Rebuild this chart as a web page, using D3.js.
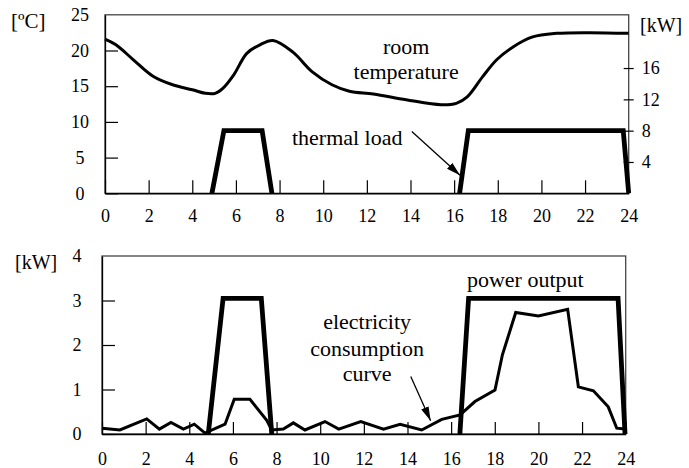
<!DOCTYPE html>
<html>
<head>
<meta charset="utf-8">
<script src="https://cdn.jsdelivr.net/npm/d3@7"></script>
<style>
  body { margin: 0; background: #fff; }
  svg { display: block; font-family: "Liberation Serif", "Times New Roman", serif; }
  .tick text { fill: #000; }
  .tick line { stroke: #000; stroke-width: 1.2; }
</style>
</head>
<body>
<svg width="689" height="468"></svg>
<script>
// hour ticks shared by both panels
var hourTicks = [0, 2, 4, 6, 8, 10, 12, 14, 16, 18, 20, 22, 24];
var tempTicks = [0, 5, 10, 15, 20, 25];
var heatTicks = [4, 8, 12, 16];
var powerTicks = [0, 1, 2, 3, 4];

// room temperature [ºC]
var tempHours = [0, 0.5, 1.3, 2.2, 3.1, 4.0, 4.6, 5.05, 5.4, 5.9, 6.5, 7.1, 7.7, 8.6, 9.5, 10.4, 11.2, 12.3, 13.8, 15.4, 16.1, 16.6, 17.3, 17.95, 18.7, 19.6, 20.7, 22.2, 24];
var tempValues = [21.6, 20.8, 18.7, 16.4, 15.2, 14.5, 14.0, 14.0, 14.7, 16.6, 19.6, 20.8, 21.4, 19.8, 17.0, 15.2, 14.3, 13.9, 13.1, 12.4, 12.6, 13.5, 16.3, 18.7, 20.5, 21.9, 22.4, 22.5, 22.4];

// thermal load [kW]
var loadHours = [4.9, 5.45, 7.2, 7.65, 16.25, 16.65, 23.75, 24];
var loadValues = [0, 8, 8, 0, 0, 8, 8, 0];

// power output [kW]
var powerHours = [4.87, 5.55, 7.3, 7.78, 16.4, 16.8, 23.65, 23.97];
var powerValues = [0, 3.05, 3.05, 0, 0, 3.05, 3.05, 0];

// electricity consumption [kW]
var useHours = [0, 0.82, 2.05, 2.63, 3.16, 3.73, 4.23, 4.72, 5.64, 6.06, 6.78, 7.55, 7.78, 8.31, 8.77, 9.3, 10.22, 10.85, 11.86, 12.9, 13.66, 14.65, 15.57, 16.41, 17.09, 18.01, 18.35, 18.96, 20.0, 21.34, 21.83, 22.52, 23.2, 23.59, 23.97];
var useValues = [0.13, 0.09, 0.34, 0.11, 0.26, 0.11, 0.22, 0.02, 0.22, 0.78, 0.78, 0.31, 0.09, 0.11, 0.25, 0.09, 0.28, 0.11, 0.28, 0.11, 0.22, 0.09, 0.33, 0.43, 0.73, 0.99, 1.78, 2.73, 2.65, 2.8, 1.06, 0.97, 0.61, 0.13, 0.11];

var svg = d3.select("svg");
var serif = "Liberation Serif, Times New Roman, serif";

var defs = svg.append("defs");
defs.append("marker")
  .attr("id", "arrow")
  .attr("viewBox", "0 0 14 8")
  .attr("refX", 14)
  .attr("refY", 4)
  .attr("markerWidth", 14)
  .attr("markerHeight", 8)
  .attr("markerUnits", "userSpaceOnUse")
  .attr("orient", "auto")
  .append("path")
  .attr("d", "M0,0 L14,4 L0,8 z")
  .attr("fill", "#000");

function pairs(xs, ys) {
  return xs.map(function (d, i) { return [d, ys[i]]; });
}

// axis groups come with sans-serif 10px, put the paper font back
function serifAxis(g) {
  g.attr("font-family", serif).attr("font-size", 18);
}

// ---------- top panel ----------
var x1 = d3.scaleLinear().domain([0, 24]).range([105, 628.7]);
var yT = d3.scaleLinear().domain([0, 25]).range([193.3, 14.8]);
var yK = d3.scaleLinear().domain([0, 22.8]).range([193.3, 14.8]);

var gTop = svg.append("g");

gTop.append("rect")
  .attr("x", x1(0)).attr("y", yT(25))
  .attr("width", x1(24) - x1(0)).attr("height", yT(0) - yT(25))
  .attr("fill", "none").attr("stroke", "#444").attr("stroke-width", 1.3);

var ax1 = gTop.append("g")
  .attr("transform", "translate(0," + yT(0) + ")")
  .call(d3.axisBottom(x1).tickValues(hourTicks).tickSizeInner(-13).tickSizeOuter(0).tickPadding(16))
  .call(serifAxis);
ax1.select(".domain").attr("stroke", "#000").attr("stroke-width", 1.5);

var ayT = gTop.append("g")
  .attr("transform", "translate(" + x1(0) + ",0)")
  .call(d3.axisLeft(yT).tickValues(tempTicks).tickSizeInner(-13).tickSizeOuter(0))
  .call(serifAxis);
ayT.select(".domain").attr("stroke", "#000").attr("stroke-width", 1.3);
ayT.selectAll(".tick text").attr("x", -25).attr("text-anchor", "middle");
ayT.selectAll(".tick").filter(function (d) { return d === 25; }).select("line").remove();

var ayK = gTop.append("g")
  .attr("transform", "translate(" + x1(24) + ",0)")
  .call(d3.axisRight(yK).tickValues(heatTicks).tickSizeInner(5).tickSizeOuter(0).tickPadding(8))
  .call(serifAxis);
ayK.select(".domain").remove();
ayK.selectAll(".tick line").attr("x1", -5).attr("x2", 5);
ayK.selectAll(".tick text").attr("x", 13);

gTop.append("text").attr("x", 11).attr("y", 28).attr("font-size", 21).text("[ºC]");
gTop.append("text").attr("x", 640).attr("y", 32).attr("font-size", 20).text("[kW]");

var tempLine = d3.line()
  .x(function (d) { return x1(d[0]); })
  .y(function (d) { return yT(d[1]); })
  .curve(d3.curveCatmullRom);
gTop.append("path")
  .datum(pairs(tempHours, tempValues))
  .attr("d", tempLine)
  .attr("fill", "none").attr("stroke", "#000").attr("stroke-width", 3);

var loadLine = d3.line()
  .x(function (d) { return x1(d[0]); })
  .y(function (d) { return yK(d[1]); });
gTop.append("path")
  .datum(pairs(loadHours.slice(0, 4), loadValues.slice(0, 4)))
  .attr("d", loadLine)
  .attr("fill", "none").attr("stroke", "#000").attr("stroke-width", 4.8);
gTop.append("path")
  .datum(pairs(loadHours.slice(4), loadValues.slice(4)))
  .attr("d", loadLine)
  .attr("fill", "none").attr("stroke", "#000").attr("stroke-width", 4.8);

gTop.append("text").attr("x", x1(13.8)).attr("y", 54).attr("text-anchor", "middle").attr("font-size", 22).text("room");
gTop.append("text").attr("x", x1(13.8)).attr("y", 79).attr("text-anchor", "middle").attr("font-size", 22).text("temperature");
gTop.append("text").attr("x", x1(11.1)).attr("y", 145).attr("text-anchor", "middle").attr("font-size", 22).text("thermal load");
gTop.append("line")
  .attr("x1", x1(14.06)).attr("y1", yK(7.9))
  .attr("x2", x1(16.27)).attr("y2", yK(2.3))
  .attr("stroke", "#000").attr("stroke-width", 1.3)
  .attr("marker-end", "url(#arrow)");

// ---------- bottom panel ----------
var x2 = d3.scaleLinear().domain([0, 24]).range([102, 625.7]);
var yP = d3.scaleLinear().domain([0, 4]).range([434, 256]);

var gBot = svg.append("g");

gBot.append("rect")
  .attr("x", x2(0)).attr("y", yP(4))
  .attr("width", x2(24) - x2(0)).attr("height", yP(0) - yP(4))
  .attr("fill", "none").attr("stroke", "#444").attr("stroke-width", 1.3);

var ax2 = gBot.append("g")
  .attr("transform", "translate(0," + yP(0) + ")")
  .call(d3.axisBottom(x2).tickValues(hourTicks).tickSizeInner(-12).tickSizeOuter(0).tickPadding(18))
  .call(serifAxis);
ax2.select(".domain").attr("stroke", "#000").attr("stroke-width", 1.5);

var ayP = gBot.append("g")
  .attr("transform", "translate(" + x2(0) + ",0)")
  .call(d3.axisLeft(yP).tickValues(powerTicks).tickFormat(d3.format("d")).tickSizeInner(-13).tickSizeOuter(0))
  .call(serifAxis);
ayP.select(".domain").attr("stroke", "#000").attr("stroke-width", 1.3);
ayP.selectAll(".tick text").attr("x", -25).attr("text-anchor", "middle");
ayP.selectAll(".tick").filter(function (d) { return d === 4; }).select("line").remove();

gBot.append("text").attr("x", 15).attr("y", 269).attr("font-size", 20).text("[kW]");

var pLine = d3.line()
  .x(function (d) { return x2(d[0]); })
  .y(function (d) { return yP(d[1]); });

gBot.append("path")
  .datum(pairs(useHours, useValues))
  .attr("d", pLine)
  .attr("fill", "none").attr("stroke", "#000").attr("stroke-width", 3);

gBot.append("path")
  .datum(pairs(powerHours.slice(0, 4), powerValues.slice(0, 4)))
  .attr("d", pLine)
  .attr("fill", "none").attr("stroke", "#000").attr("stroke-width", 4.8);
gBot.append("path")
  .datum(pairs(powerHours.slice(4), powerValues.slice(4)))
  .attr("d", pLine)
  .attr("fill", "none").attr("stroke", "#000").attr("stroke-width", 4.8);

gBot.append("text").attr("x", x2(19.4)).attr("y", 287).attr("text-anchor", "middle").attr("font-size", 22).text("power output");
gBot.append("text").attr("x", x2(12.15)).attr("y", 329).attr("text-anchor", "middle").attr("font-size", 22).text("electricity");
gBot.append("text").attr("x", x2(12.15)).attr("y", 356).attr("text-anchor", "middle").attr("font-size", 22).text("consumption");
gBot.append("text").attr("x", x2(12.15)).attr("y", 381).attr("text-anchor", "middle").attr("font-size", 22).text("curve");
gBot.append("line")
  .attr("x1", x2(14.15)).attr("y1", yP(1.29))
  .attr("x2", x2(15.06)).attr("y2", yP(0.3))
  .attr("stroke", "#000").attr("stroke-width", 1.3)
  .attr("marker-end", "url(#arrow)");
</script>
</body>
</html>
